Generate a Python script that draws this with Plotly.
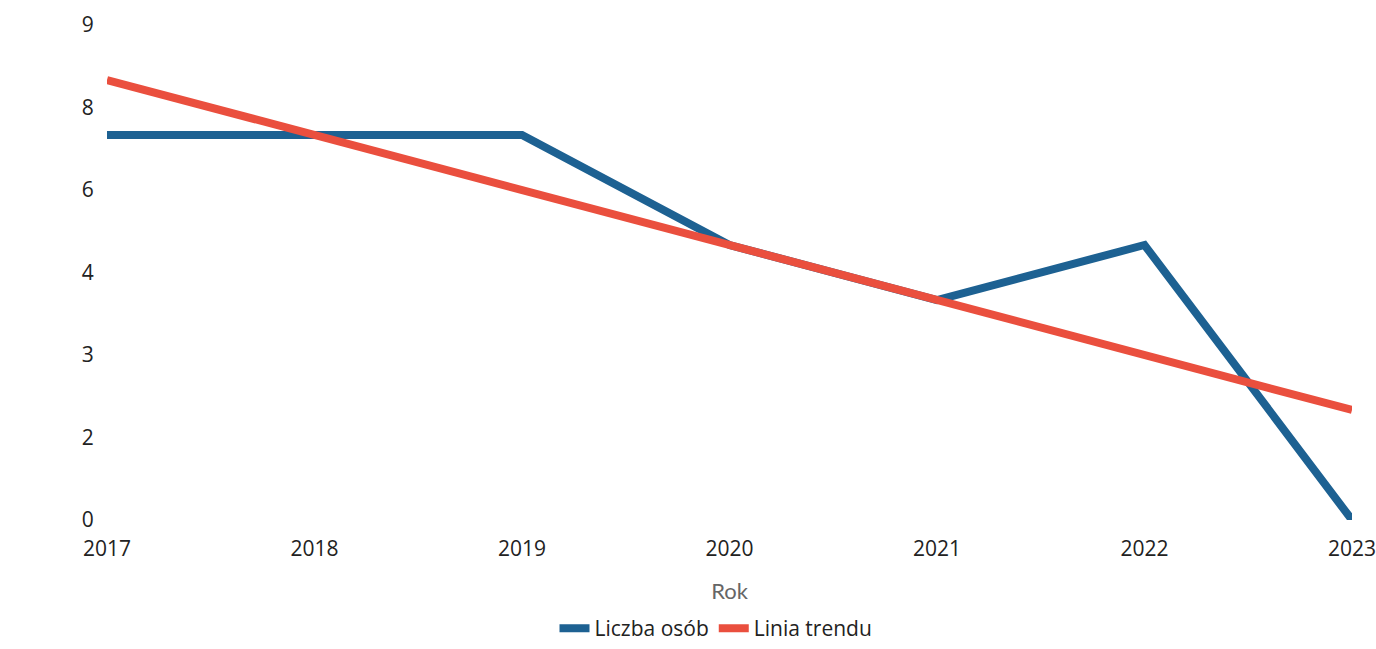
import plotly.graph_objects as go

years = [2017, 2018, 2019, 2020, 2021, 2022, 2023]
liczba_osob = [7, 7, 7, 5, 4, 5, 0]
linia_trendu = [8, 7, 6, 5, 4, 3, 2]
y_tickvals = [0, 1.5, 3, 4.5, 6, 7.5, 9]
y_ticktext = ["0", "2", "3", "4", "6", "8", "9"]

BLUE = "#1d6192"
RED = "#ea4f3e"

fig = go.Figure()
fig.add_trace(go.Scatter(x=years, y=liczba_osob, mode="lines", name="Liczba osób",
                         line=dict(color=BLUE, width=8), cliponaxis=False))
fig.add_trace(go.Scatter(x=years, y=linia_trendu, mode="lines", name="Linia trendu",
                         line=dict(color=RED, width=8), cliponaxis=False))

fig.update_layout(
    width=1376, height=649,
    margin=dict(l=107, r=24, t=25, b=129, autoexpand=False),
    paper_bgcolor="white", plot_bgcolor="white",
    font=dict(family="Open Sans, Noto Sans, sans-serif", size=21, color="#222"),
    showlegend=True,
    legend=dict(orientation="h", x=716 / 1376, xref="container", xanchor="center",
                y=-6 / 649, yref="container", yanchor="bottom", borderwidth=0,
                font=dict(size=21, color="#222"), itemwidth=30),
)
fig.update_xaxes(range=[2017, 2023], tickvals=years, ticktext=[str(y) for y in years],
                 showgrid=False, zeroline=False, showline=False, automargin=False,
                 ticklabeloverflow="allow",
                 ticks="outside", ticklen=10, tickcolor="rgba(0,0,0,0)",
                 title=dict(text="Rok", font=dict(size=22, color="#666", family="Lato, Open Sans, sans-serif"),
                            standoff=22))
fig.update_yaxes(range=[0, 9], tickvals=y_tickvals, ticktext=y_ticktext,
                 showgrid=False, zeroline=False, showline=False, automargin=False,
                 ticks="outside", ticklen=8, tickcolor="rgba(0,0,0,0)")

fig.write_html("out.html", config={"displayModeBar": False},
               post_script="document.body.style.margin='0';document.body.style.overflow='hidden';")
